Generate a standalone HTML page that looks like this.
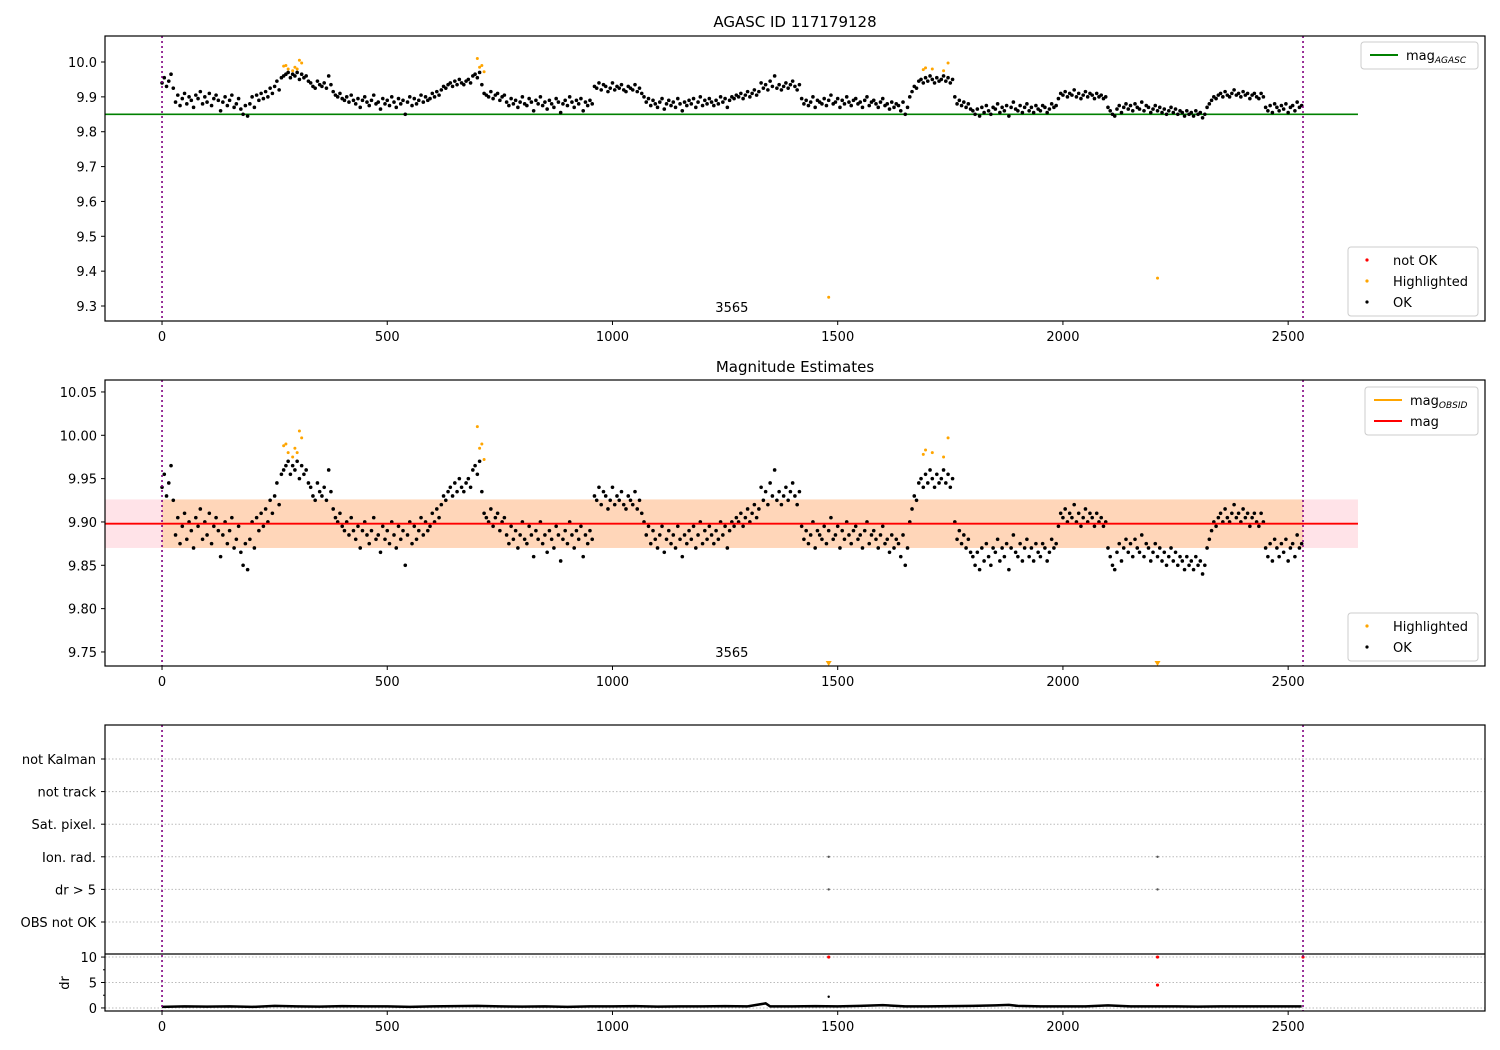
<!DOCTYPE html>
<html><head><meta charset="utf-8"><style>
body{margin:0;background:#fff;}
svg{display:block;font-family:"DejaVu Sans","Liberation Sans",sans-serif;}
</style></head><body>
<svg id="fig" width="1500" height="1050" viewBox="0 0 1500 1050" xmlns="http://www.w3.org/2000/svg"></svg>
<script>
// ---- data ----
const timeStep = 5;
const mags = [
9.94,9.955,9.93,9.945,9.965,9.925,
9.885,9.905,9.875,9.895,9.91,9.88,9.9,9.89,9.87,9.905,
9.895,9.915,9.88,9.9,9.885,9.91,9.875,9.895,9.905,9.89,
9.86,9.885,9.9,9.875,9.89,9.905,9.87,9.88,9.895,9.865,
9.85,9.875,9.845,9.88,9.9,9.87,9.905,9.89,9.91,9.895,
9.915,9.9,9.925,9.91,
9.93,9.945,9.92,9.955,9.96,9.965,9.97,9.955,9.965,9.96,9.97,9.95,9.965,9.955,9.96,9.945,
9.94,9.93,9.925,9.945,9.935,9.93,9.94,9.925,9.96,9.935,
9.915,9.905,9.9,9.91,9.895,9.89,9.9,9.885,9.905,9.89,
9.88,9.895,9.87,9.89,9.9,9.885,9.875,9.89,9.905,9.88,
9.885,9.865,9.895,9.88,9.89,9.875,9.9,9.885,9.87,9.895,
9.88,9.89,9.85,9.885,9.9,9.875,9.895,9.88,9.89,9.905,
9.885,9.9,9.89,9.895,
9.91,9.9,9.915,9.905,9.92,9.93,9.925,9.935,9.94,9.93,9.945,9.935,9.95,9.94,9.935,9.945,9.95,9.94,9.96,9.965,9.955,9.97,
9.935,9.91,9.905,9.9,9.915,9.895,9.905,9.91,9.89,9.9,9.905,
9.885,9.875,9.895,9.88,9.89,9.87,9.885,9.9,9.88,9.875,
9.895,9.885,9.86,9.89,9.88,9.9,9.875,9.885,9.865,9.89,
9.88,9.87,9.895,9.885,9.855,9.88,9.89,9.875,9.9,9.885,
9.87,9.89,9.88,9.895,9.86,9.885,9.875,9.89,9.88,
9.93,9.925,9.94,9.92,9.935,9.93,9.915,9.925,9.94,9.92,9.93,9.925,9.935,9.92,9.915,9.93,9.925,9.92,9.935,9.915,9.925,9.91,
9.9,9.885,9.895,9.875,9.89,9.88,9.87,9.885,9.895,9.865,
9.88,9.89,9.875,9.885,9.87,9.895,9.88,9.86,9.885,9.875,
9.89,9.88,9.895,9.87,9.885,9.9,9.875,9.89,9.88,9.895,
9.885,9.875,9.89,9.88,9.9,9.885,9.895,9.87,9.89,9.9,
9.895,9.905,
9.9,9.91,9.895,9.905,9.915,9.9,9.91,9.92,9.905,9.915,
9.94,9.925,9.935,9.92,9.945,9.93,9.96,9.925,9.935,9.92,9.93,9.94,9.925,9.935,9.945,9.93,9.92,9.935,
9.895,9.88,9.89,9.875,9.885,9.9,9.87,9.89,9.885,9.88,
9.895,9.875,9.89,9.905,9.88,9.885,9.895,9.87,9.89,9.88,
9.9,9.885,9.875,9.89,9.895,9.88,9.885,9.87,9.89,9.9,
9.875,9.885,9.89,9.88,9.87,9.885,9.895,9.875,9.88,9.865,
9.885,9.87,9.88,9.875,9.86,9.885,9.85,9.87,
9.9,9.915,9.93,9.925,9.945,9.95,9.94,9.955,9.945,9.96,9.95,9.94,9.955,9.945,9.95,9.96,9.945,9.955,9.94,9.95,
9.9,9.88,9.89,9.875,9.885,9.87,9.88,9.865,
9.86,9.85,9.865,9.845,9.87,9.855,9.875,9.86,9.85,9.87,
9.865,9.88,9.855,9.87,9.86,9.875,9.845,9.87,9.885,9.865,
9.86,9.875,9.855,9.87,9.88,9.86,9.87,9.855,9.875,9.865,
9.86,9.875,9.87,9.855,9.865,9.88,9.87,9.875,
9.895,9.91,9.905,9.915,9.9,9.91,9.905,9.92,9.9,9.91,9.895,9.905,9.915,9.9,9.91,9.905,9.895,9.91,9.9,9.905,9.895,9.9,
9.87,9.86,9.85,9.845,9.865,9.875,9.855,9.87,9.88,9.865,
9.875,9.86,9.88,9.87,9.865,9.885,9.86,9.875,9.87,9.855,
9.865,9.875,9.86,9.87,9.855,9.865,9.85,9.86,9.87,9.855,
9.865,9.85,9.86,9.855,9.845,9.86,9.85,9.855,9.845,9.86,
9.85,9.855,9.84,9.85,
9.87,9.88,9.89,9.9,9.895,9.905,9.91,9.9,9.915,9.905,9.9,9.91,9.92,9.905,9.91,9.9,9.915,9.905,9.91,9.895,9.905,9.91,9.9,9.895,9.91,9.9,
9.87,9.86,9.875,9.855,9.88,9.87,9.86,9.875,9.865,9.88,9.855,9.87,9.875,9.86,9.885,9.87,9.875
];
const hlTimes = [270,275,280,290,295,300,305,310,700,705,710,715,1690,1695,1710,1735,1745,1480,2210];
const hlMags  = [9.988,9.99,9.98,9.975,9.985,9.98,10.005,9.997,10.01,9.985,9.99,9.972,9.978,9.983,9.98,9.975,9.997,9.325,9.38];
const magAgasc = 9.85;
const magMean = 9.898;
const magStd = 0.028;
const lineRange = [-126, 2655];
const obsStart = 0, obsEnd = 2533;
const obsLabel = "3565", obsLabelTime = 1265;
const flagNames = ["not Kalman","not track","Sat. pixel.","Ion. rad.","dr > 5","OBS not OK"];
const flagTimes = [1480,1480,2210,2210];
const flagIdx   = [3,4,3,4];
const drTimes = [0,50,100,150,200,250,300,350,400,450,500,550,600,650,700,750,800,850,900,950,1000,1050,1100,1150,1200,1250,1300,1340,1350,1400,1450,1500,1550,1600,1650,1700,1750,1800,1850,1880,1900,1950,2000,2050,2100,2150,2200,2250,2300,2350,2400,2450,2500,2530];
const drVals  = [0.2,0.3,0.25,0.3,0.2,0.4,0.3,0.25,0.35,0.3,0.3,0.2,0.3,0.35,0.4,0.3,0.25,0.3,0.2,0.3,0.3,0.35,0.25,0.3,0.3,0.35,0.3,0.9,0.3,0.3,0.35,0.3,0.4,0.55,0.3,0.3,0.35,0.4,0.5,0.6,0.4,0.3,0.3,0.3,0.5,0.3,0.3,0.3,0.25,0.3,0.3,0.3,0.3,0.3];
const drRedTimes = [1480,2210,2210,2533];
const drRedVals  = [10,10,4.5,10];
const drBlackTimes = [1480];
const drBlackVals  = [2.2];
const xTicks = [0,500,1000,1500,2000,2500];
const y1Ticks = [9.3,9.4,9.5,9.6,9.7,9.8,9.9,10.0];
const y2Ticks = [9.75,9.80,9.85,9.90,9.95,10.00,10.05];
const drTicks = [0,5,10];

// ---- helpers ----
const svg = document.getElementById('fig');
const NS = 'http://www.w3.org/2000/svg';
function el(tag, attrs, parent){const e=document.createElementNS(NS,tag);for(const k in attrs)e.setAttribute(k,attrs[k]);(parent||svg).appendChild(e);return e;}
function txt(s, attrs, parent){const e=el('text',attrs,parent);e.textContent=s;return e;}
const X0=105, X1=1485, XMIN=-126.6, XMAX=2937;
const sx = t => X0 + (t-XMIN)/(XMAX-XMIN)*(X1-X0);
function mkY(top,bot,vTop,vBot){return v=> top + (vTop-v)/(vTop-vBot)*(bot-top);}
const y1 = mkY(36,321,10.0746,9.257);
const y2 = mkY(380,666,10.0638,9.7338);
const yd = mkY(954,1011,10.6,-0.6);
const flagY = i => 759 + i*32.6;
const R = 1.8;

function clip(id,top,bot){const c=el('clipPath',{id:id});el('rect',{x:X0,y:top,width:X1-X0,height:bot-top},c);}
clip('c1',36,321);clip('c2',380,666);clip('c3',725,954);clip('c4',954,1011);

function xAxis(bot, name){
  const g=el('g',{});
  xTicks.forEach(t=>{el('line',{x1:sx(t),x2:sx(t),y1:bot,y2:bot+4,stroke:'#000','stroke-width':1},g);
    txt(String(t),{x:sx(t),y:bot+20,'font-size':13,'text-anchor':'middle'},g);});
}
function yAxis(ticks,fy,name,fmt){
  const g=el('g',{});
  ticks.forEach(v=>{el('line',{x1:X0-4,x2:X0,y1:fy(v),y2:fy(v),stroke:'#000'},g);
    txt(fmt(v),{x:X0-8,y:fy(v)+5,'font-size':13,'text-anchor':'end'},g);});
}
function box(top,bot,name){const r=el('rect',{x:X0,y:top,width:X1-X0,height:bot-top,fill:'none',stroke:'#000','stroke-width':1.2});}
function vlines(top,bot,name){
  [obsStart,obsEnd].forEach(t=>{const l=el('line',{x1:sx(t),x2:sx(t),y1:top,y2:bot,stroke:'#800080','stroke-width':1.6,'stroke-dasharray':'2,3'});
  });
}
function legend(x,y,w,entries,name){
  const g=el('g',{});
  el('rect',{x:x,y:y,width:w,height:entries.length*21+6,rx:3,fill:'#fff',stroke:'#ccc'},g);
  entries.forEach((e,i)=>{const cy=y+13+i*21;
    if(e.type==='line')el('line',{x1:x+9,x2:x+37,y1:cy,y2:cy,stroke:e.color,'stroke-width':2},g);
    else el('circle',{cx:x+19,cy:cy,r:1.6,fill:e.color},g);
    const t=txt(e.label,{x:x+45,y:cy+5,'font-size':13},g);
    if(e.sub){const s=el('tspan',{'font-size':9,'font-style':'italic',dy:3},t);s.textContent=e.sub;}
  });
}

// ---- titles ----
const t1=txt('AGASC ID 117179128',{x:795,y:27,'font-size':15,'text-anchor':'middle'});
const t2=txt('Magnitude Estimates',{x:795,y:372,'font-size':15,'text-anchor':'middle'});

// ---- panel 1 ----
const g1=el('g',{'clip-path':'url(#c1)'});


const la=el('line',{x1:sx(lineRange[0]),x2:sx(lineRange[1]),y1:y1(magAgasc),y2:y1(magAgasc),stroke:'#008000','stroke-width':1.6},g1);

mags.forEach((m,i)=>{const c=el('circle',{cx:sx(i*timeStep),cy:y1(m),r:R,fill:'#000'},g1);
  
  });
hlTimes.forEach((t,i)=>{const c=el('circle',{cx:sx(t),cy:y1(hlMags[i]),r:1.5,fill:'#ffa500'},g1);
  
  });
vlines(36,321,'obs-boundary');
txt(obsLabel,{x:sx(obsLabelTime),y:312,'font-size':13,'text-anchor':'middle'});
box(36,321,'panel1-frame');
xAxis(321,'panel1-x-axis');yAxis(y1Ticks,y1,'panel1-y-axis',v=>v.toFixed(1));
legend(1361,42,117,[{type:'line',color:'#008000',label:'mag',sub:'AGASC'}],'legend-agasc');
legend(1348,247,130,[{type:'pt',color:'#f00',label:'not OK'},{type:'pt',color:'#ffa500',label:'Highlighted'},{type:'pt',color:'#000',label:'OK'}],'legend-status');

// ---- panel 2 ----
const g2=el('g',{'clip-path':'url(#c2)'});


el('rect',{x:sx(lineRange[0]),y:y2(magMean+magStd),width:sx(lineRange[1])-sx(lineRange[0]),height:y2(magMean-magStd)-y2(magMean+magStd),fill:'#ffc0cb',opacity:0.45},g2);
el('rect',{x:sx(obsStart),y:y2(magMean+magStd),width:sx(obsEnd)-sx(obsStart),height:y2(magMean-magStd)-y2(magMean+magStd),fill:'#ffa500',opacity:0.2},g2);
mags.forEach((m,i)=>{const c=el('circle',{cx:sx(i*timeStep),cy:y2(m),r:R,fill:'#000'},g2);
  
  });
const lm=el('line',{x1:sx(lineRange[0]),x2:sx(lineRange[1]),y1:y2(magMean),y2:y2(magMean),stroke:'#f00','stroke-width':1.8},g2);

const yMin2=9.7338;
hlTimes.forEach((t,i)=>{
  if(hlMags[i]<yMin2){const x=sx(t),y=666;const p=el('path',{d:`M${x-3},${y-5}L${x+3},${y-5}L${x},${y}Z`,fill:'#ffa500'});
    }
  else{const c=el('circle',{cx:sx(t),cy:y2(hlMags[i]),r:1.5,fill:'#ffa500'},g2);
  
  }});
vlines(380,666,'obs-boundary');
txt(obsLabel,{x:sx(obsLabelTime),y:657,'font-size':13,'text-anchor':'middle'});
box(380,666,'panel2-frame');
xAxis(666,'panel2-x-axis');yAxis(y2Ticks,y2,'panel2-y-axis',v=>v.toFixed(2));
legend(1365,387,113,[{type:'line',color:'#ffa500',label:'mag',sub:'OBSID'},{type:'line',color:'#f00',label:'mag'}],'legend-mag');
legend(1348,613,130,[{type:'pt',color:'#ffa500',label:'Highlighted'},{type:'pt',color:'#000',label:'OK'}],'legend-status-2');

// ---- panel 3 flags ----
flagNames.forEach((n,i)=>{const l=el('line',{x1:X0,x2:X1,y1:flagY(i),y2:flagY(i),stroke:'#bbb','stroke-dasharray':'1.5,2'});
  
  el('line',{x1:X0-4,x2:X0,y1:flagY(i),y2:flagY(i),stroke:'#000'});
  const t=txt(n,{x:X0-9,y:flagY(i)+5,'font-size':13,'text-anchor':'end'});
  });
flagTimes.forEach((t,i)=>{const c=el('circle',{cx:sx(t),cy:flagY(flagIdx[i]),r:1.2,fill:'#555'});
  
  });
// dr panel
drTicks.forEach(v=>{el('line',{x1:X0,x2:X1,y1:yd(v),y2:yd(v),stroke:'#bbb','stroke-dasharray':'1.5,2'});});
[2.5,7.5].forEach(v=>el('line',{x1:X0-2,x2:X0,y1:yd(v),y2:yd(v),stroke:'#000'}));
yAxis(drTicks,yd,'dr-y-axis',v=>String(v));
const dl=el('polyline',{points:drTimes.map((t,i)=>sx(t)+','+yd(drVals[i])).join(' '),fill:'none',stroke:'#000','stroke-width':2.5,'clip-path':'url(#c4)'});

drRedTimes.forEach((t,i)=>{const c=el('circle',{cx:sx(t),cy:yd(drRedVals[i]),r:1.6,fill:'#f00'});
  
  });
drBlackTimes.forEach((t,i)=>{const c=el('circle',{cx:sx(t),cy:yd(drBlackVals[i]),r:1.2,fill:'#000'});
  
  });
const dy=txt('dr',{x:0,y:0,'font-size':13,'text-anchor':'middle',transform:'translate(69,983) rotate(-90)'});

vlines(725,1011,'obs-boundary');
el('line',{x1:X0,x2:X1,y1:954,y2:954,stroke:'#000','stroke-width':1.2});
box(725,1011,'panel3-frame');
xAxis(1011,'panel3-x-axis');
</script>
</body></html>
